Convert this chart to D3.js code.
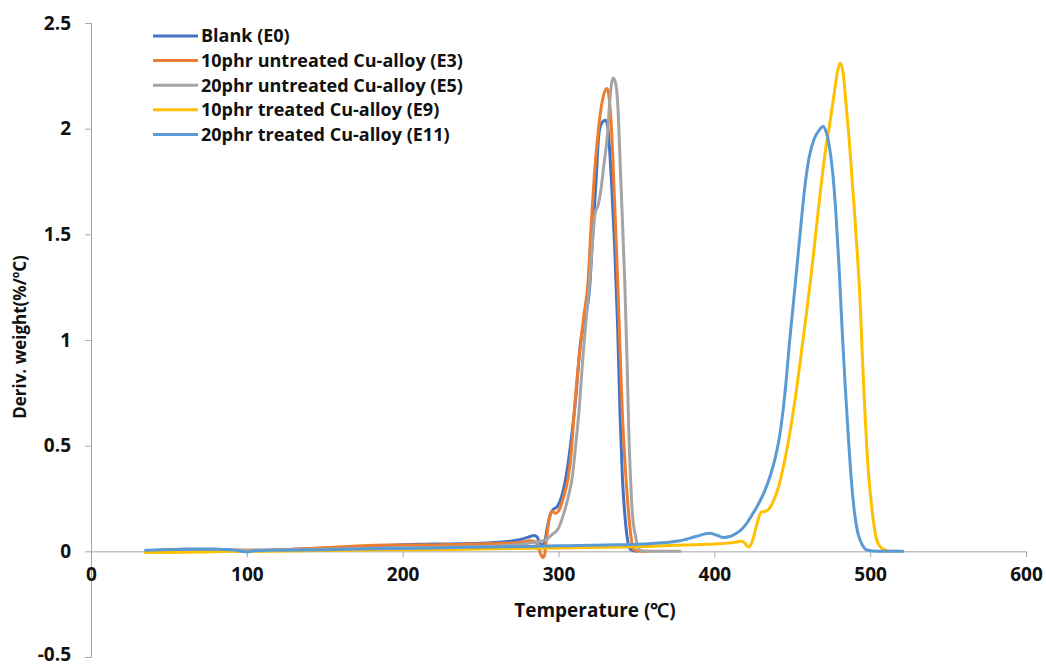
<!DOCTYPE html>
<html><head><meta charset="utf-8">
<script src="https://cdn.jsdelivr.net/npm/d3@7"></script>
<style>body{margin:0;background:#fff}svg{display:block}text{font-family:"Open Sans",sans-serif;font-weight:700;fill:#111}</style>
</head><body><svg id="c" width="1046" height="667"></svg>
<script>
const seriesNames = ["Blank (E0)","10phr untreated Cu-alloy (E3)","20phr untreated Cu-alloy (E5)","10phr treated Cu-alloy (E9)","20phr treated Cu-alloy (E11)"];
const seriesColors = ["#4472C4","#ED7D31","#A5A5A5","#FFC000","#5B9BD5"];
const xTicks = [0,100,200,300,400,500,600];
const yTicks = [-0.5,0,0.5,1,1.5,2,2.5];

const e0 = [[35,0.0],[45,0.005],[60,0.01],[80,0.01],[95,0.005],[110,0.005],[130,0.01],[150,0.015],[170,0.02],[190,0.028],[210,0.033],[230,0.035],[250,0.038],[265,0.045],[275,0.055],[281,0.068],[284,0.075],[286,0.07],[288,0.04],[290,0.03],[291,0.04],[293,0.12],[295,0.18],[297,0.2],[299,0.21],[302,0.26],[305,0.36],[308,0.52],[311,0.72],[314,0.98],[317,1.1],[320,1.25],[322,1.5],[324,1.74],[326,1.98],[328,2.03],[330,2.04],[331,2.03],[332,1.98],[334,1.75],[336,1.45],[338,1.05],[339.5,0.65],[341,0.35],[342.5,0.18],[344,0.07],[346,0.01],[350,0.0]];
const e3 = [[35,0.0],[50,0.005],[70,0.008],[90,0.005],[110,0.005],[130,0.01],[150,0.017],[170,0.025],[190,0.03],[210,0.03],[230,0.032],[250,0.035],[265,0.038],[275,0.042],[282,0.05],[285,0.045],[287,0.02],[289,-0.02],[290,-0.03],[291,-0.02],[292,0.04],[294,0.15],[296,0.19],[298,0.18],[300,0.19],[303,0.25],[306,0.34],[308,0.45],[310,0.65],[313,0.9],[316,1.1],[319,1.28],[321,1.55],[323,1.78],[325,1.95],[327,2.08],[329,2.16],[331,2.19],[332,2.17],[334,2.0],[336,1.65],[338,1.28],[339.5,0.95],[341,0.65],[343,0.38],[345,0.18],[346.5,0.07],[348,0.01],[352,0.0],[358,0.0]];
const e5 = [[35,0.0],[50,0.003],[70,0.005],[90,0.004],[110,0.004],[130,0.007],[150,0.01],[170,0.013],[190,0.016],[210,0.018],[230,0.02],[250,0.023],[265,0.027],[275,0.032],[282,0.04],[287,0.045],[290,0.05],[293,0.06],[296,0.08],[300,0.11],[303,0.17],[306,0.25],[309,0.36],[311,0.5],[313,0.65],[316,0.95],[318,1.12],[320,1.28],[322,1.48],[323.5,1.6],[325.5,1.64],[327,1.7],[329,1.82],[331.5,1.98],[333,2.14],[335,2.24],[336.5,2.22],[338,2.12],[340,1.75],[342.5,1.28],[344,0.9],[345,0.6],[346.5,0.3],[347.5,0.17],[349.5,0.07],[351.5,0.01],[355,0.0],[378,0.0]];
const e9 = [[35,-0.005],[50,-0.005],[70,-0.003],[90,0.0],[110,0.0],[130,0.002],[150,0.004],[180,0.006],[210,0.008],[240,0.01],[270,0.013],[300,0.016],[330,0.019],[360,0.024],[380,0.03],[400,0.035],[410,0.04],[415,0.045],[418,0.048],[420,0.035],[422,0.02],[424,0.04],[427,0.12],[430,0.185],[433,0.19],[435,0.2],[438,0.24],[441,0.3],[444,0.39],[447,0.5],[450,0.63],[453,0.78],[456,0.95],[459,1.12],[462,1.3],[465,1.5],[468,1.7],[471,1.88],[474,2.02],[477,2.17],[479,2.27],[480.7,2.31],[482.5,2.27],[484.5,2.12],[486.5,1.95],[488,1.8],[490,1.6],[492,1.38],[493.5,1.19],[495,0.92],[496.5,0.68],[498,0.47],[499.5,0.32],[501,0.21],[502.5,0.12],[504,0.06],[506,0.025],[509,0.008],[512,0.0],[518,0.0]];
const e11 = [[35,0.005],[45,0.008],[60,0.01],[80,0.01],[92,0.006],[97,0.0],[100,-0.002],[105,0.003],[120,0.005],[150,0.008],[180,0.012],[210,0.015],[240,0.019],[270,0.022],[300,0.026],[330,0.03],[355,0.035],[378,0.05],[388,0.07],[397,0.085],[402,0.075],[406,0.066],[410,0.07],[414,0.085],[417,0.1],[420,0.125],[424,0.17],[428,0.22],[432,0.28],[436,0.36],[439,0.44],[442,0.55],[444,0.66],[446,0.8],[448,0.97],[450,1.12],[452,1.27],[455,1.5],[458,1.72],[461,1.87],[464,1.95],[467,1.99],[469.8,2.01],[471.5,1.99],[473.5,1.93],[476,1.79],[478,1.6],[480,1.35],[482,1.05],[484,0.78],[486,0.54],[488,0.33],[490,0.18],[492,0.09],[494,0.045],[496,0.018],[498.5,0.005],[505,0.0],[521,0.0]];
const seriesData = [e0,e3,e5,e9,e11];

const svg = d3.select("#c");
const x = d3.scaleLinear().domain([0,600]).range([91,1026]);
const y = d3.scaleLinear().domain([-0.5,2.5]).range([657,23]);
const axisColor = "#a6a6a6";
const fmt = d => String(d);

// y axis
const ya = svg.append("g").attr("transform","translate("+x(0)+",0)")
  .call(d3.axisLeft(y).tickValues(yTicks).tickSize(6).tickPadding(14).tickFormat(fmt));
ya.select(".domain").attr("stroke",axisColor);
ya.selectAll(".tick line").attr("stroke",axisColor);
ya.selectAll(".tick text").attr("font-size",19).attr("font-family","Open Sans").attr("font-weight",700).attr("fill","#111")
  .attr("dy", d => d === -0.5 ? "0.2em" : "0.32em");

// x axis at y=0
const xa = svg.append("g").attr("transform","translate(0,"+y(0)+")")
  .call(d3.axisBottom(x).tickValues(xTicks).tickSize(6).tickSizeOuter(0).tickPadding(10).tickFormat(fmt));
xa.select(".domain").attr("stroke",axisColor);
xa.selectAll(".tick line").attr("stroke",axisColor);
xa.selectAll(".tick text").attr("font-size",19).attr("font-family","Open Sans").attr("font-weight",700).attr("fill","#111");

// lines
const line = d3.line().x(d=>x(d[0])).y(d=>y(d[1])).curve(d3.curveMonotoneX);
seriesData.forEach((s,i)=>{
  svg.append("path").datum(s).attr("d",line).attr("fill","none")
    .attr("stroke",seriesColors[i]).attr("stroke-width",3).attr("stroke-linejoin","round").attr("stroke-linecap","round");
});

// titles
svg.append("text").attr("x",595).attr("y",617).attr("text-anchor","middle").attr("font-size",19).text("Temperature (\u2103)");
svg.append("text").attr("transform","translate(26,337) rotate(-90)").attr("text-anchor","middle").attr("font-size",17).text("Deriv. weight(%/\u00BAC)");

// legend
const lg = svg.append("g");
seriesNames.forEach((n,i)=>{
  const yy = 36 + i*24.6;
  lg.append("line").attr("x1",153).attr("x2",198).attr("y1",yy).attr("y2",yy).attr("stroke",seriesColors[i]).attr("stroke-width",3);
  lg.append("text").attr("x",201).attr("y",yy).attr("dy","0.35em").attr("font-size",18).text(n);
});
</script></body></html>
